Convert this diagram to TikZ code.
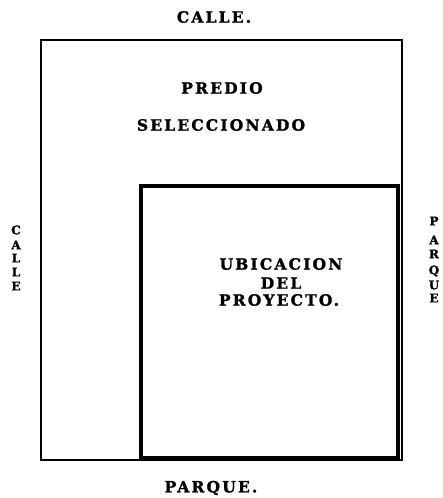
\documentclass[tikz,border=0pt]{standalone}
\usepackage{fontspec}
\newfontfamily\planfont[LetterSpace=14, FakeBold=1.5]{DejaVu Serif Bold}
\usetikzlibrary{positioning}

\begin{document}
\begin{tikzpicture}[x=1pt, y=-1pt,
    lbl/.style={font=\fontsize{15.5}{15.5}\selectfont\planfont, inner sep=0pt},
    side/.style={font=\fontsize{12}{12}\selectfont\planfont, inner sep=0pt},
    lote/.style={line width=1.4pt},
    proyecto/.style={line width=4pt}]
  \useasboundingbox (0,0) rectangle (442,498);
  % predio y ubicacion
  \draw[lote] (41,40) rectangle (402,460);
  \draw[proyecto] (141,186) rectangle (398,458);
  % calles
  \node[lbl] (calleN) at (214,17) {CALLE.};
  \node[lbl] (parqueS) at (211,488) {PARQUE.};
  \foreach \l/\y in {C/230, A/245, L/258, L/272, E/286}
    \node[side] at (16,\y) {\l};
  \foreach \l/\y in {P/221, A/240, R/254, Q/271, U/285, E/298}
    \node[side] at (434,\y) {\l};
  % textos
  \node[lbl] (predio) at (222,88) {PREDIO};
  \node[lbl] (selec) at (221,125) {SELECCIONADO};
  \node[lbl] (ubic) at (281,264) {UBICACION};
  \node[lbl] (del) at (281,283) {DEL};
  \node[lbl] (proy) at (279,300) {PROYECTO.};
\end{tikzpicture}
\end{document}
